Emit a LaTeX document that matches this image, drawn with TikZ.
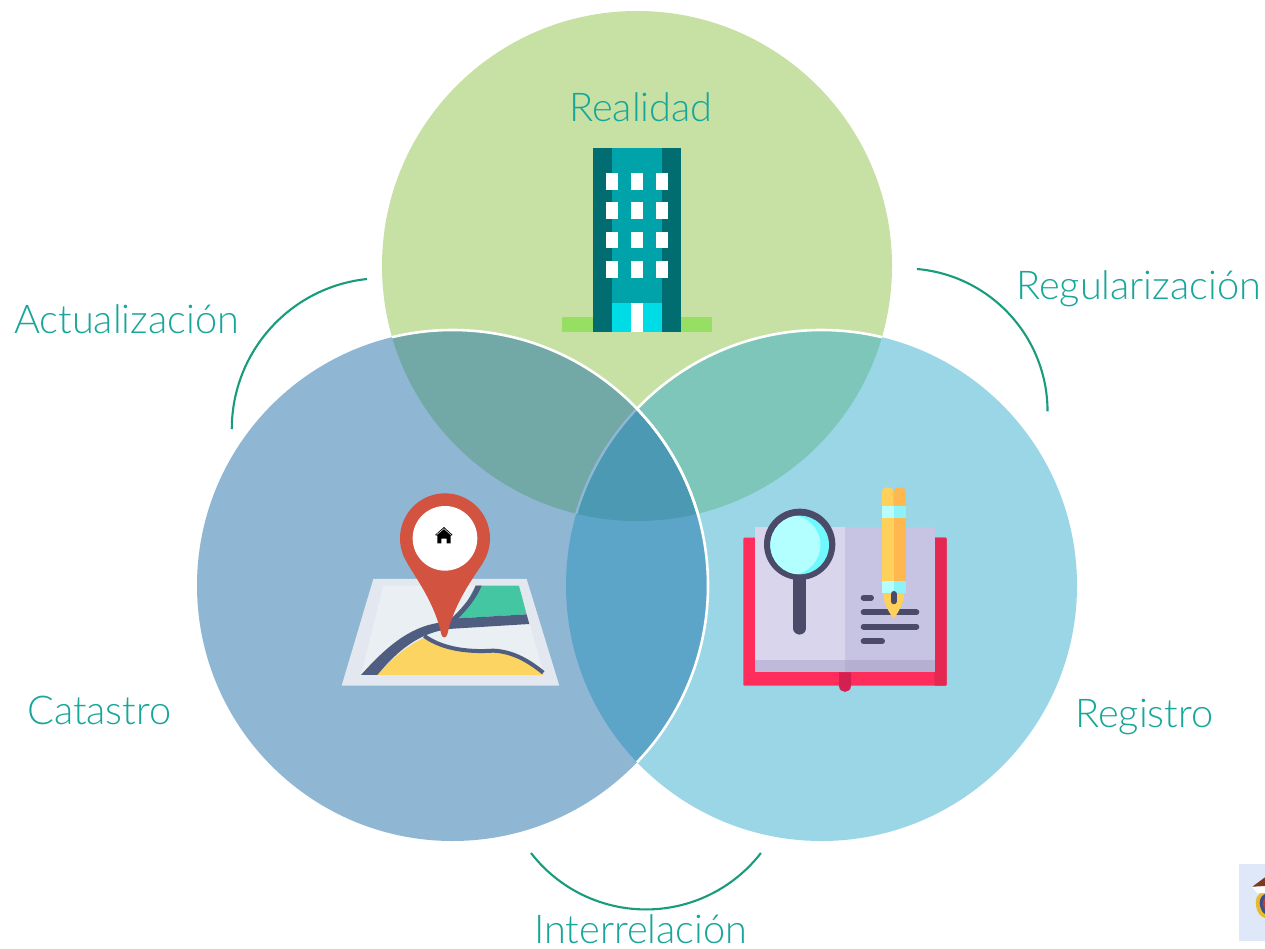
\documentclass[tikz,border=0pt]{standalone}
\usepackage{fontspec}
\newfontfamily\lightfont[UprightFont=* Light]{Lato}
\definecolor{cT}{HTML}{C7E0A3}
\definecolor{cL}{HTML}{8FB6D3}
\definecolor{cR}{HTML}{9AD6E6}
\definecolor{cLT}{HTML}{72A8A5}
\definecolor{cRT}{HTML}{7DC6B9}
\definecolor{cLR}{HTML}{5CA4C8}
\definecolor{cLRT}{HTML}{4B99B2}
\definecolor{labelc}{HTML}{17A69A}
\definecolor{arcc}{HTML}{189C7C}
\definecolor{navy}{HTML}{4B4A68}
\definecolor{road}{HTML}{4F5D80}
\definecolor{pinred}{HTML}{D2533F}
\definecolor{bdark}{HTML}{016D70}
\definecolor{bmid}{HTML}{00A3AA}
\definecolor{bdoor}{HTML}{00DCE6}
\definecolor{ground}{HTML}{96DF62}
\definecolor{penl}{HTML}{FFD15B}
\definecolor{penr}{HTML}{FFB84F}
\definecolor{bandl}{HTML}{B6FDFD}
\definecolor{bandr}{HTML}{8EF3F8}
\definecolor{paperout}{HTML}{E3E7EF}
\definecolor{paperin}{HTML}{EAEFF3}
\definecolor{mapgreen}{HTML}{45C6A2}
\definecolor{mapyellow}{HTML}{FCD462}
\definecolor{coverl}{HTML}{FF2D5B}
\definecolor{coverr}{HTML}{E42852}
\definecolor{covertab}{HTML}{D42050}
\definecolor{pagel}{HTML}{D9D5EC}
\definecolor{pager}{HTML}{C7C3E2}
\definecolor{stripl}{HTML}{BFBAD9}
\definecolor{stripr}{HTML}{B5AFD2}
\definecolor{lensd}{HTML}{70F9FC}
\definecolor{lensl}{HTML}{B3FFFF}
\definecolor{crestbg}{HTML}{DEE8F9}
\definecolor{crestbrown}{HTML}{7A3B22}
\definecolor{crestgold}{HTML}{E9B92E}
\definecolor{crestblue}{HTML}{3A4F8C}
\definecolor{crestred}{HTML}{B5403A}
\tikzset{
  lab/.style={anchor=base west,inner sep=0pt,text=labelc,font=\lightfont\fontsize{39.7}{39.7}\selectfont},
  brace/.style={draw=arcc,line width=2.1pt},
  wline/.style={draw=white,line width=2.6pt},
  txtline/.style={draw=navy,line width=6pt,line cap=round},
}
\def\cTop{(637,266) circle[radius=255pt]}
\def\cLeft{(452.5,585.5) circle[radius=255.5pt]}
\def\cRight{(821.5,585.5) circle[radius=255.5pt]}
\begin{document}
\begin{tikzpicture}[x=1pt,y=-1pt]
\useasboundingbox (0,0) rectangle (1265,949);
\fill[white] (0,0) rectangle (1265,949);
% circles
\fill[cT] \cTop;
\fill[cR] \cRight;
\fill[cL] \cLeft;
\begin{scope}\clip \cTop; \fill[cLT] \cLeft; \fill[cRT] \cRight; \end{scope}
\begin{scope}\clip \cLeft; \fill[cLR] \cRight;
  \begin{scope}\clip \cTop; \fill[cLRT] \cRight; \draw[cL,line width=2.4pt] \cRight; \end{scope}
\end{scope}
% white outlines, only where they cross another circle
\begin{scope}\clip \cTop; \begin{scope}[even odd rule]\clip (0,0) rectangle (1265,949) \cLeft; \draw[wline] \cRight; \end{scope}\end{scope}
\begin{scope}\clip \cTop; \draw[wline] \cLeft; \end{scope}
\begin{scope}\clip \cRight; \draw[wline] \cLeft; \end{scope}
% connectors
\coordinate (arcA) at (367,279);
\coordinate (arcB) at (917,269);
\coordinate (arcC) at (531,853);
\draw[brace] (arcA) arc[start angle=96,end angle=180,radius=151pt];
\draw[brace] (arcB) arc[start angle=85,end angle=0,radius=143pt];
\draw[brace] (arcC) arc[start angle=217.7,end angle=322.3,radius=145.3pt];
% labels
\node[lab] (realidad) at (569,122) {Realidad};
\node[lab] (actual) at (14,334) {Actualización};
\node[lab] (regular) at (1016,300) {Regularización};
\node[lab] (catastro) at (27,724) {Catastro};
\node[lab] (registro) at (1075,727) {Registro};
\node[lab] (inter) at (534,943) {Interrelación};
% building
\begin{scope}[shift={(550,140)},x=.3333pt,y=-.3333pt]
\fill[ground] (35,532) rectangle (487,576);
\fill[bdark] (130,24) rectangle (393,576);
\fill[bmid] (186,24) rectangle (337,488);
\fill[bdoor] (186,488) rectangle (337,576);
\fill[white] (242,488) rectangle (280,576);
\foreach \wx in {167,242,317}
  \foreach \wy in {99,187,275,363}
    \fill[white] (\wx,\wy) rectangle ++(38,50);
\end{scope}
% map with pin
\begin{scope}[shift={(320,470)},x=.3333pt,y=-.3333pt]
\fill[paperout] (160,327) -- (620,327) -- (718,647) -- (65,647) -- cycle;
\fill[paperin] (190,347) -- (597,347) -- (672,615) -- (123,615) -- cycle;
\fill[mapgreen] (467,347) -- (597,347) -- (620,433) -- (415,445) -- cycle;
\fill[mapyellow] (172,615) .. controls (215,565) and (265,525) .. (313,503)
  .. controls (360,530) and (430,550) .. (520,545)
  .. controls (590,550) and (640,590) .. (672,615) -- cycle;
\fill[road] (123,615) .. controls (190,540) and (265,470) .. (360,458)
  -- (388,452) .. controls (420,420) and (455,385) .. (467,347) -- (485,347)
  .. controls (470,385) and (440,420) .. (415,445) -- (620,433) -- (628,462)
  -- (400,476) .. controls (320,482) and (250,520) .. (172,615) -- cycle;
\draw[road,line width=4pt] (313,498) .. controls (360,532) and (430,548) .. (520,542)
  .. controls (590,545) and (640,585) .. (670,608);
\fill[pinred] (375,205) circle[radius=135pt*.3333];
\fill[pinred] (262,280) .. controls (285,320) and (345,400) .. (364,493)
  .. controls (366,505) and (380,505) .. (382,493)
  .. controls (402,400) and (462,320) .. (488,280) -- cycle;
\fill[white] (375,205) circle[radius=97pt*.3333];
\fill[black] (372,171) -- (398,195) -- (392,197) -- (392,220) -- (380,220) -- (380,206)
  -- (364,206) -- (364,220) -- (352,220) -- (352,197) -- (345,195) -- cycle;
\draw[white,line width=.5pt] (350,194) -- (372,176) -- (392,194);
\end{scope}
% book
\begin{scope}[shift={(730,470)},x=.3333pt,y=-.3333pt]
\fill[coverl,rounded corners=1pt] (40,203) rectangle (650,647);
\fill[coverr,rounded corners=1pt] (613,203) rectangle (650,647);
\fill[covertab] (327,607) -- (363,607) -- (363,647) .. controls (363,672) and (327,672) .. (327,647) -- cycle;
\fill[pagel] (75,170) rectangle (345,570);
\fill[pager] (345,170) rectangle (615,570);
\fill[stripl] (75,570) rectangle (345,607);
\fill[stripr] (345,570) rectangle (615,607);
\draw[navy,line width=12.5pt,line cap=round] (209,320) -- (209,475);
\fill[navy] (209,223) circle[radius=107pt*.3333];
\fill[lensd] (209,225) circle[radius=88pt*.3333];
\begin{scope}
\clip (209,225) circle[radius=88pt*.3333];
\fill[lensl] (181,225) circle[radius=90pt*.3333];
\end{scope}
\draw[txtline] (401,383) -- (423,383);
\draw[txtline] (401,427) -- (559,427);
\draw[txtline] (401,470) -- (559,470);
\draw[txtline] (401,514) -- (456,514);
% pencil
\fill[penl,rounded corners=5pt] (455,120) -- (455,52) -- (491,52) -- (491,120) -- cycle;
\fill[penr,rounded corners=5pt] (491,120) -- (491,52) -- (528,52) -- (528,120) -- cycle;
\fill[penl] (455,108) rectangle (491,333);
\fill[penr] (491,108) rectangle (528,333);
\fill[bandl] (455,108) rectangle (491,145);
\fill[bandr] (491,108) rectangle (528,145);
\fill[bandl] (455,333) rectangle (491,370);
\fill[bandr] (491,333) rectangle (528,370);
\fill[penl] (460,370) -- (522,370) .. controls (522,400) and (505,425) .. (497,438)
  .. controls (493,445) and (489,445) .. (485,438) .. controls (477,425) and (460,400) .. (460,370) -- cycle;
\draw[navy,line width=6pt,line cap=round] (491,372) -- (491,394);
\end{scope}
% crest
\fill[crestbg] (1239,864) rectangle (1265,941);
\fill[crestgold] (1265,892) .. controls (1256,893) and (1255,900) .. (1256,906)
  .. controls (1257,913) and (1261,917) .. (1265,918) -- cycle;
\fill[crestblue] (1265,894) .. controls (1260,896) and (1259,902) .. (1260,906)
  .. controls (1261,910) and (1263,913) .. (1265,914) -- cycle;
\fill[crestred] (1265,898) .. controls (1263,900) and (1262,904) .. (1263,906) -- (1265,909) -- cycle;
\fill[white] (1252,887) -- (1265,885) -- (1265,893) -- (1257,893) -- cycle;
\fill[crestbrown] (1252.3,886.7) -- (1265,877.3) -- (1265,886) -- cycle;
\end{tikzpicture}
\end{document}
